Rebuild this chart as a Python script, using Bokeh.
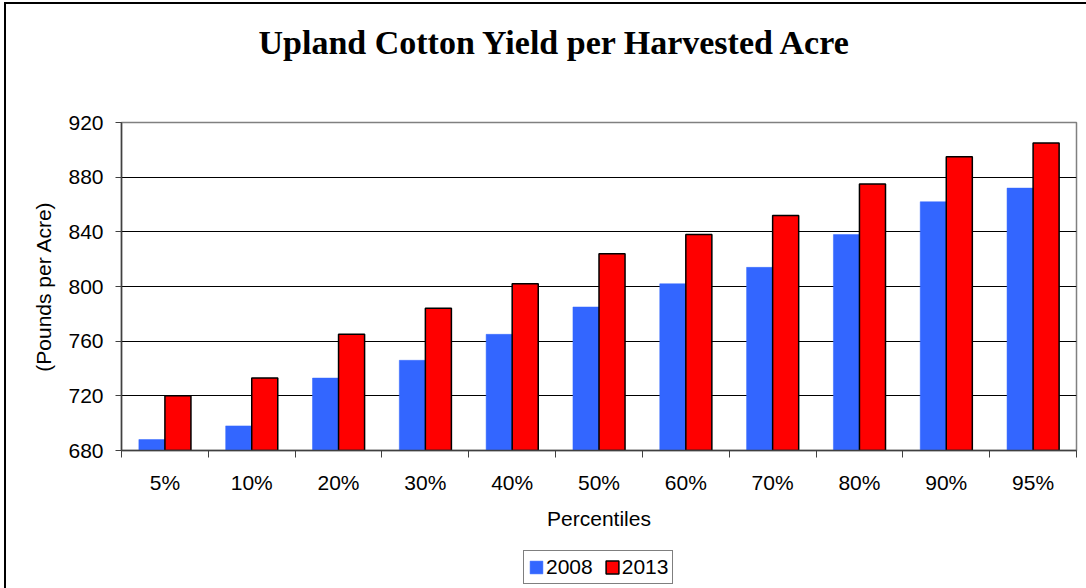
from bokeh.plotting import figure
from bokeh.models import ColumnDataSource, Range1d, FixedTicker, Legend, LegendItem, Title
from bokeh.layouts import column
from bokeh.transform import dodge
from bokeh.embed import file_html
from bokeh.resources import INLINE

categories = ["5%", "10%", "20%", "30%", "40%", "50%", "60%", "70%", "80%", "90%", "95%"]
yield_2008 = [688, 698, 733, 746, 765, 785, 802, 814, 838, 862, 872]
yield_2013 = [720, 733, 765, 784, 802, 824, 838, 852, 875, 895, 905]
y_ticks = [680, 720, 760, 800, 840, 880, 920]
series_names = ["2008", "2013"]
series_cols = ["y08", "y13"]
series_fill = ["#3366FF", "#FF0000"]
series_line = ["#3366FF", "black"]
series_lw = [0.5, 1.5]
series_shift = [-0.15, 0.15]

n = len(categories)
centers = [i + 0.5 for i in range(n)]
bounds = [float(i) for i in range(n + 1)]

src = ColumnDataSource(dict(x=centers, y08=yield_2008, y13=yield_2013))

FONT = "Liberation Sans"
FS = "21px"

fig = figure(width=1080, height=544, output_backend="svg", toolbar_location=None,
             x_range=Range1d(0, n), y_range=Range1d(680, 920),
             min_border_left=115, min_border_right=10, min_border_top=118, min_border_bottom=98)
fig.background_fill_color = "white"
fig.border_fill_color = "white"
fig.outline_line_color = "#808080"
fig.outline_line_width = 1.5

for col, fc, lc, lw, sh in zip(series_cols, series_fill, series_line, series_lw, series_shift):
    fig.vbar(x=dodge("x", sh, range=fig.x_range), top=col, bottom=680, width=0.3, source=src,
             fill_color=fc, line_color=lc, line_width=lw)

# x axis
xa = fig.xaxis[0]
xa.ticker = FixedTicker(ticks=centers, minor_ticks=bounds)
xa.major_label_overrides = {c: lab for c, lab in zip(centers, categories)}
xa.major_tick_out = 0
xa.major_tick_in = 0
xa.minor_tick_out = 7
xa.minor_tick_in = 0
xa.minor_tick_line_color = "#404040"
xa.axis_line_color = "#404040"
xa.axis_line_width = 1.5
xa.major_label_standoff = 13
xa.major_label_text_font = FONT
xa.major_label_text_font_size = FS
xa.major_label_text_color = "black"
xa.axis_label = "Percentiles"
xa.axis_label_text_font = FONT
xa.axis_label_text_font_size = FS
xa.axis_label_text_font_style = "normal"
xa.axis_label_text_color = "black"
xa.axis_label_standoff = 10

# y axis
ya = fig.yaxis[0]
ya.ticker = FixedTicker(ticks=y_ticks)
ya.major_tick_out = 6
ya.major_tick_in = 0
ya.minor_tick_line_color = None
ya.major_tick_line_color = "#404040"
ya.axis_line_color = "#404040"
ya.axis_line_width = 1.5
ya.major_label_standoff = 12
ya.major_label_text_font = FONT
ya.major_label_text_font_size = FS
ya.major_label_text_color = "black"
ya.axis_label = "(Pounds per Acre)"
ya.axis_label_text_font = FONT
ya.axis_label_text_font_size = FS
ya.axis_label_text_font_style = "normal"
ya.axis_label_text_color = "black"
ya.axis_label_standoff = 10

fig.xgrid.grid_line_color = None
fig.ygrid.ticker = FixedTicker(ticks=y_ticks[1:-1])
fig.ygrid.grid_line_color = "black"
fig.ygrid.grid_line_width = 1

# title: spacer nearest the frame, then the title text
fig.title.text = ""
fig.add_layout(Title(text=" ", text_font_size="10px", standoff=44), "above")
fig.add_layout(Title(text="Upland Cotton Yield per Harvested Acre", text_font="Liberation Serif",
                     text_font_style="bold", text_font_size="34px", align="left", offset=137,
                     standoff=10, text_color="black"), "above")

# legend strip below the chart (its renderers are hidden, only the legend shows)
leg = figure(width=1080, height=40, output_backend="svg", toolbar_location=None,
             x_range=Range1d(0, n), y_range=Range1d(680, 920),
             x_axis_location=None, y_axis_location=None,
             min_border_left=0, min_border_right=0, min_border_top=0, min_border_bottom=0)
leg.grid.grid_line_color = None
leg.outline_line_color = None
leg.background_fill_color = "white"
leg.border_fill_color = "white"
items = []
for name, col, fc, lc, lw in zip(series_names, series_cols, series_fill, series_line, series_lw):
    r = leg.vbar(x="x", top=col, bottom=680, width=0.3, source=src,
                 fill_color=fc, line_color=lc, line_width=lw, visible=False)
    items.append(LegendItem(label=name, renderers=[r]))
legend = Legend(items=items, location=(402, 4), orientation="horizontal")
legend.label_text_font = FONT
legend.label_text_font_size = FS
legend.label_text_color = "black"
legend.glyph_width = 16
legend.glyph_height = 16
legend.label_standoff = 2
legend.spacing = 11
legend.padding = 4
legend.margin = 0
legend.border_line_color = "black"
legend.border_line_width = 1
legend.label_height = 20
legend.inactive_fill_alpha = 0
leg.add_layout(legend, "center")

p = column(fig, leg, spacing=0)
p.styles = {"margin-left": "4px", "margin-top": "2px",
            "border-left": "2px solid black", "border-top": "2px solid black"}

open("out.html", "w").write(file_html(p, INLINE))
